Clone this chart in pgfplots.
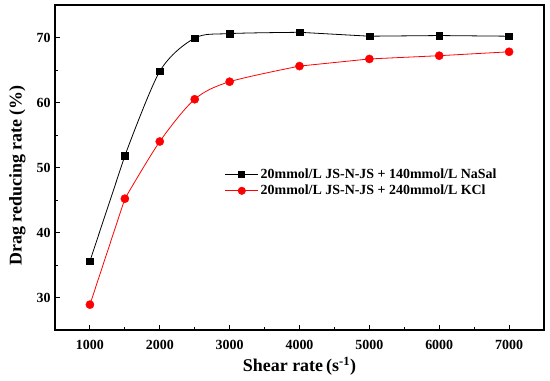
\documentclass[border=0pt]{standalone}
\usepackage{pgfplots}
\pgfplotsset{compat=1.18}
\usetikzlibrary{calc}
\usepackage{fontspec}
\setmainfont{Liberation Serif}
\pgfplotsset{
  mylegend/.style={legend image code/.code={
    \draw[##1] (0bp,0bp) -- (33bp,0bp);
    \draw[##1, only marks] plot coordinates {(16.5bp,0bp)};}}
}
\pgfplotstableread{
x y
1000 35.6
1500 51.8
2000 64.8
2500 69.9
3000 70.6
4000 70.8
5000 70.2
6000 70.3
7000 70.2
}\blackdata
\pgfplotstableread{
x y
1000 28.9
1500 45.2
2000 54.0
2500 60.5
3000 63.2
4000 65.6
5000 66.7
6000 67.2
7000 67.8
}\reddata
\begin{document}
\begin{tikzpicture}[x=1bp,y=1bp]
\begin{axis}[
  name=ax,
  anchor=south west, at={(0,0)},
  scale only axis,
  width=489bp, height=325bp,
  xmin=500, xmax=7500, ymin=25, ymax=75,
  xtick={1000,2000,...,7000},
  ytick={30,40,...,70},
  minor x tick num=1, minor y tick num=1,
  tick align=inside,
  xtick pos=bottom, ytick pos=left,
  major tick length=5bp, minor tick length=3bp,
  axis line style={line width=1.1pt},
  tick style={line width=0.9pt, black},
  /pgf/number format/assume math mode=true,
  /pgf/number format/1000 sep={},
  ticklabel style={font=\fontsize{14}{14}\selectfont\bfseries},
  xticklabel style={yshift=-7bp},
  yticklabel style={xshift=-1bp},
  xlabel={\textbf{Shear rate}\,(\textbf{s}\textsuperscript{\textbf{-1}})},
  ylabel={Drag reducing rate (\%)},
  label style={font=\fontsize{18}{18}\selectfont\bfseries},
  xlabel style={yshift=0bp},
  ylabel style={yshift=4bp, xshift=-8bp},
  legend style={draw=none, fill=none, at={(0.345,0.505)}, anchor=north west,
    font=\fontsize{14}{15}\selectfont\bfseries, row sep=1bp, inner sep=1bp},
  legend cell align=left,
]
% black series: straight, smooth, straight segments
\addplot[black, line width=0.8pt, forget plot] table[x=x,y=y] {
x y
1000 35.6
1500 51.8
};
\addplot[black, line width=0.8pt, smooth, tension=0.5, forget plot] table[x=x,y=y] {
x y
1500 51.8
2000 64.8
2500 69.9
3000 70.6
4000 70.8
};
\addplot[black, line width=0.8pt, forget plot] table[x=x,y=y] {
x y
4000 70.8
5000 70.2
6000 70.3
7000 70.2
};
\addplot[black, only marks, mark=square*, mark size=3.4bp, forget plot] table[x=x,y=y] {\blackdata};
% red series
\addplot[red, line width=0.8pt, forget plot] table[x=x,y=y] {
x y
1000 28.9
1500 45.2
};
\addplot[red, line width=0.8pt, smooth, tension=0.5, forget plot] table[x=x,y=y] {
x y
1500 45.2
2000 54.0
2500 60.5
3000 63.2
4000 65.6
};
\addplot[red, line width=0.8pt, forget plot] table[x=x,y=y] {
x y
4000 65.6
5000 66.7
6000 67.2
7000 67.8
};
\addplot[red, only marks, mark=*, mark size=4.1bp, mark options={fill=red}, forget plot] table[x=x,y=y] {\reddata};
\addlegendimage{black, line width=0.8pt, mark=square*, mark size=3bp, mylegend}
\addlegendentry{20mmol/L JS-N-JS + 140mmol/L NaSal}
\addlegendimage{red, line width=0.8pt, mark=*, mark size=3.6bp, mark options={fill=red}, mylegend}
\addlegendentry{20mmol/L JS-N-JS + 240mmol/L KCl}
\end{axis}
\pgfresetboundingbox
\path ($(ax.south west)+(-55bp,-51bp)$) rectangle ($(ax.north east)+(6bp,5bp)$);
\end{tikzpicture}
\end{document}
